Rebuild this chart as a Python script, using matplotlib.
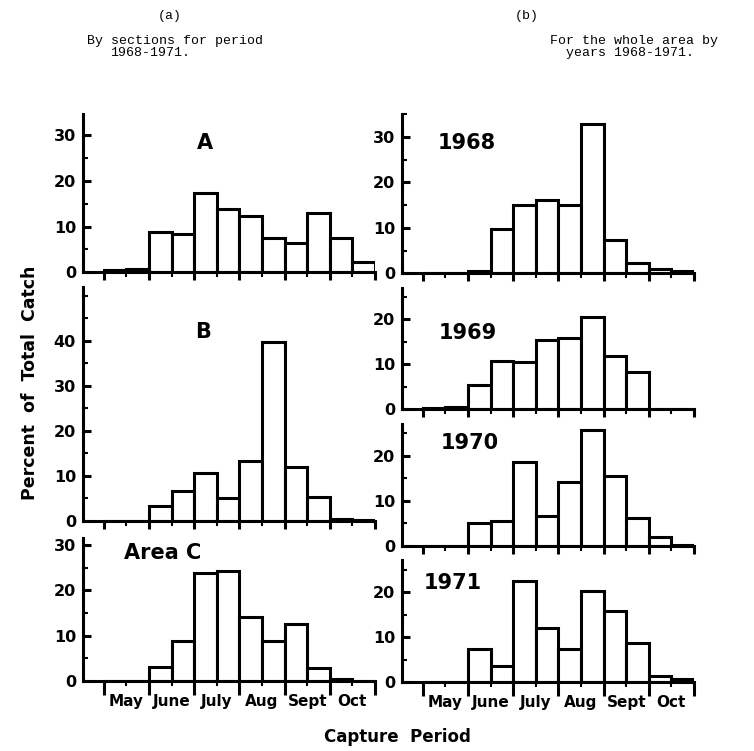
import matplotlib
matplotlib.use('Agg')
import matplotlib.pyplot as plt
from matplotlib.ticker import MultipleLocator, FixedLocator, NullFormatter

# half-month capture periods, May 1-15 ... Oct 16-31
periods = ['May 1', 'May 2', 'June 1', 'June 2', 'July 1', 'July 2',
           'Aug 1', 'Aug 2', 'Sept 1', 'Sept 2', 'Oct 1', 'Oct 2']
months = ['May', 'June', 'July', 'Aug', 'Sept', 'Oct']

# (a) by sections, 1968-1971
sec_A = [0.4, 0.7, 8.9, 8.3, 17.3, 13.9, 12.2, 7.6, 6.4, 13.0, 7.6, 2.2]
sec_B = [0, 0, 3.3, 6.6, 10.7, 5.0, 13.3, 39.8, 11.9, 5.3, 0.3, 0.1]
sec_C = [0, 0, 3.2, 8.9, 23.9, 24.3, 14.2, 8.9, 12.5, 2.8, 0.4, 0]

# (b) whole area by years
y1968 = [0, 0, 0.6, 9.7, 15.1, 16.2, 15.1, 32.7, 7.3, 2.2, 0.9, 0.4]
y1969 = [0.4, 0.6, 5.4, 10.7, 10.6, 15.4, 15.8, 20.6, 11.9, 8.2, 0, 0]
y1970 = [0, 0, 5.0, 5.6, 18.6, 6.7, 14.1, 25.6, 15.6, 6.3, 2.1, 0.2]
y1971 = [0, 0, 7.4, 3.6, 22.5, 12.1, 7.4, 20.3, 15.9, 8.8, 1.5, 0.7]

panel_labels = ['A', 'B', 'Area C', '1968', '1969', '1970', '1971']
series = [sec_A, sec_B, sec_C, y1968, y1969, y1970, y1971]
ytick_max = [30, 40, 30, 30, 20, 20, 20]

W, H = 754, 751
fig = plt.figure(figsize=(W / 100, H / 100), dpi=100)
FONT = 'DejaVu Sans'


def rect(x0, x1, ytop, ybot):
    return [x0 / W, 1 - ybot / H, (x1 - x0) / W, (ybot - ytop) / H]


rects = [rect(83, 375, 114, 272.3), rect(83, 375, 287, 520.7), rect(83, 375, 538, 681),
         rect(402, 694, 114, 273.3), rect(402, 694, 288, 409.3), rect(402, 694, 424, 546),
         rect(402, 694, 560, 682.3)]
ylims = [34.6, 52, 31.6, 35, 27, 27, 27.2]
label_pos = [(0.418, 0.817), (0.411, 0.807), (0.272, 0.895),
             (0.223, 0.818), (0.224, 0.629), (0.233, 0.844), (0.173, 0.812)]
bottom = [False, False, True, False, False, False, True]

LW = 2.2
for vals, r, yl, lab, lp, ym, isbot in zip(series, rects, ylims, panel_labels,
                                            label_pos, ytick_max, bottom):
    ax = fig.add_axes(r)
    x = list(range(len(periods)))
    ax.bar(x, vals, width=1.0, align='edge', color='white', edgecolor='black',
           linewidth=LW, zorder=2)
    ax.set_xlim(-0.92, 12.0)
    ax.set_ylim(0, yl)
    for s in ('top', 'right'):
        ax.spines[s].set_visible(False)
    for s in ('left', 'bottom'):
        ax.spines[s].set_linewidth(LW)
        ax.spines[s].set_zorder(3)
    ax.yaxis.set_major_locator(FixedLocator(list(range(0, ym + 1, 10))))
    ax.yaxis.set_minor_locator(MultipleLocator(5))
    ax.tick_params(axis='y', which='major', direction='in', length=6, width=LW,
                   labelsize=11.5, pad=5)
    ax.tick_params(axis='y', which='minor', direction='in', length=3.5, width=1.5)
    for t in ax.get_yticklabels():
        t.set_fontweight('bold')
        t.set_family(FONT)
    ax.xaxis.set_major_locator(FixedLocator(list(range(0, 13, 2))))
    ax.xaxis.set_minor_locator(FixedLocator(list(range(1, 12, 2))))
    ax.xaxis.set_major_formatter(NullFormatter())
    if isbot:
        ax.tick_params(axis='x', which='major', direction='out', length=10, width=LW)
        ax.tick_params(axis='x', which='minor', direction='out', length=3.5, width=1.5,
                       labelsize=11, pad=6)
        ax.set_xticklabels(months, minor=True, fontweight='bold', family=FONT)
    else:
        ax.tick_params(axis='x', which='major', direction='out', length=6, width=LW)
        ax.tick_params(axis='x', which='minor', direction='out', length=3.5, width=1.5)
        ax.xaxis.set_minor_formatter(NullFormatter())
    ax.text(lp[0], lp[1], lab, transform=ax.transAxes, ha='center', va='center',
            fontsize=15, fontweight='bold', family=FONT)

mono = 'Liberation Mono'
fig.text(170 / W, 1 - 16 / H, '(a)', ha='center', va='center', fontsize=9.5, family=mono)
fig.text(87 / W, 1 - 41 / H, 'By sections for period', ha='left', va='center',
         fontsize=9.5, family=mono)
fig.text(110 / W, 1 - 53 / H, '1968-1971.', ha='left', va='center', fontsize=9.5, family=mono)
fig.text(527 / W, 1 - 16 / H, '(b)', ha='center', va='center', fontsize=9.5, family=mono)
fig.text(550 / W, 1 - 41 / H, 'For the whole area by', ha='left', va='center',
         fontsize=9.5, family=mono)
fig.text(566 / W, 1 - 53 / H, 'years 1968-1971.', ha='left', va='center', fontsize=9.5,
         family=mono)

fig.text(30 / W, 1 - 383 / H, 'Percent  of  Total  Catch', rotation=90, ha='center',
         va='center', fontsize=12.5, fontweight='bold', family=FONT)
fig.text(397 / W, 1 - 737 / H, 'Capture  Period', ha='center', va='center',
         fontsize=12, fontweight='bold', family=FONT)

fig.savefig('out.png', dpi=100, facecolor='white')
